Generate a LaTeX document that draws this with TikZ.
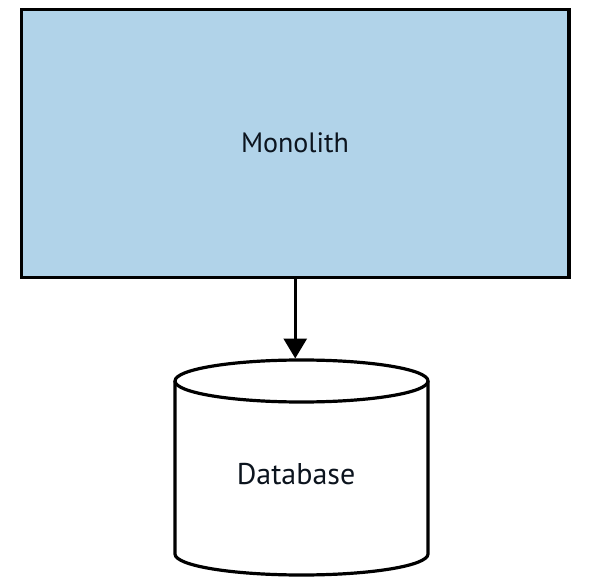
\documentclass[tikz,border=0pt]{standalone}
\usepackage{fontspec}
\setmainfont{PT Sans}
\usepackage{xcolor}
\usepackage{tikz}
\usetikzlibrary{shapes,arrows.meta,calc}
\usetikzlibrary{positioning}

\definecolor{monoblue}{RGB}{177,211,233}
\definecolor{inkdark}{RGB}{12,20,30}

\begin{document}
\begin{tikzpicture}[x=1pt,y=1pt,
  outline/.style={draw=black, line width=3.2pt},
  label/.style={text=inkdark, font=\fontsize{28}{32}\selectfont, inner sep=0pt}]
\useasboundingbox (0,0) rectangle (592,582);
\node[outline, fill=monoblue, minimum width=547.5pt, minimum height=268pt, inner sep=0pt] (mono) at (295.25,438.5) {};
\node[label] (monotext) at (295,439.5) {Monolith};
\coordinate (dbtop) at (301.5,201);
\coordinate (dbbottom) at (301.5,28);
\coordinate (dbin) at (295.25,223.5);
\draw[outline, fill=white] ($(dbtop)+(-126.5,0)$) -- ($(dbbottom)+(-126.5,0)$) arc[start angle=180, end angle=360, x radius=126.5, y radius=21] -- ($(dbtop)+(126.5,0)$);
\draw[outline] (dbtop) ellipse [x radius=126.5, y radius=21];
\node[label, font=\fontsize{30}{34}\selectfont] (db) at (296,107.7) {Database};
\draw[outline, -{Triangle[width=23pt,length=20pt]}] (mono.south) -- (dbin);
\end{tikzpicture}
\end{document}
